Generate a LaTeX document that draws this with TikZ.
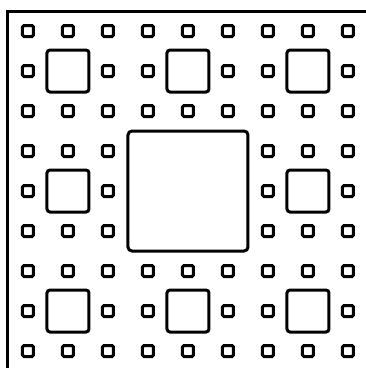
\documentclass[tikz,border=0pt]{standalone}
\usetikzlibrary{calc}
\begin{document}
\begin{tikzpicture}[x=1pt, y=-1pt,
    hole/.style={draw=black, line width=3pt, rounded corners=1.5pt},
    border/.style={draw=black, line width=3pt}]
  \useasboundingbox (0,0) rectangle (366,368);
  \clip (0,0) rectangle (366,368);
  % outer square, cut off on the right and at the bottom
  \draw[border] (8,11) rectangle (368,371);
  % central hole
  \draw[hole, rounded corners=4pt] (128,131) rectangle (248,251);
  % holes of the eight blocks
  \foreach \bi/\bj in {0/0,1/0,2/0,0/1,2/1,0/2,1/2,2/2} {
    \draw[hole, rounded corners=3pt]
      ($(8,11)+(120*\bi+60,120*\bj+60)+(-21,-21)$) rectangle
      ($(8,11)+(120*\bi+60,120*\bj+60)+(21,21)$);
    % smallest holes
    \foreach \ci/\cj in {0/0,1/0,2/0,0/1,2/1,0/2,1/2,2/2}
      \draw[hole]
        ($(8,11)+(120*\bi+40*\ci+20,120*\bj+40*\cj+20)+(-5.5,-5.5)$) rectangle
        ($(8,11)+(120*\bi+40*\ci+20,120*\bj+40*\cj+20)+(5.5,5.5)$);
  }
\end{tikzpicture}
\end{document}
